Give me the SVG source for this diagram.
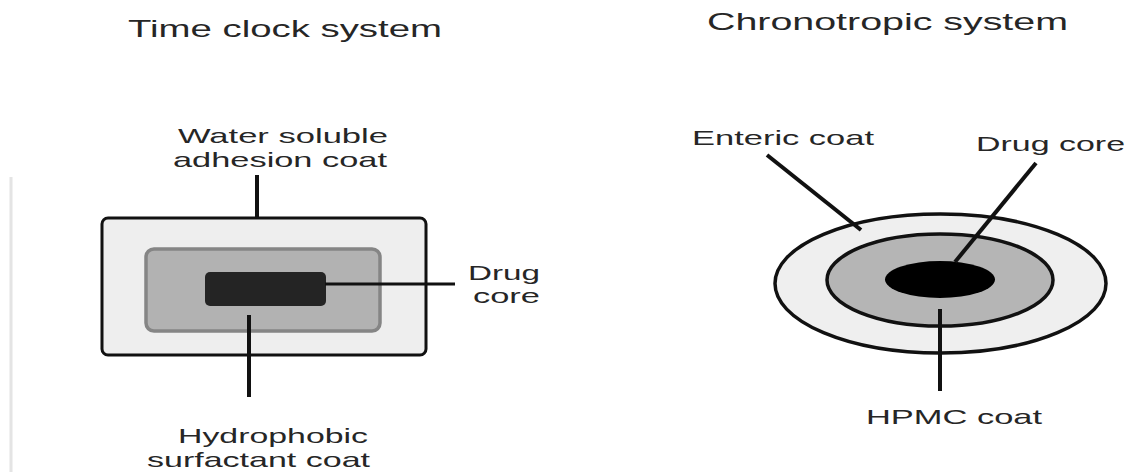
<svg xmlns="http://www.w3.org/2000/svg" width="1132" height="472" viewBox="0 0 1132 472">
  <style>
    text { font-family: "Liberation Sans", Arial, sans-serif; fill: #262626; }
    .title { font-size: 24px; }
    .lbl { font-size: 21px; }
    .conn { stroke: #111; stroke-width: 4; stroke-linecap: butt; fill: none; }
  </style>
  <rect x="0" y="0" width="1132" height="472" fill="#ffffff"/>
  <line x1="11" y1="177" x2="11" y2="472" stroke="#e4e4e4" stroke-width="3"/>

  <g id="title-left">
    <text class="title" x="128" y="37" textLength="314" lengthAdjust="spacingAndGlyphs">Time clock system</text>
  </g>
  <g id="title-right">
    <text class="title" x="707" y="30" textLength="361" lengthAdjust="spacingAndGlyphs">Chronotropic system</text>
  </g>

  <g id="time-clock-tablet">
    <rect x="102" y="218" width="324" height="137" rx="6" fill="#eeeeee" stroke="#111" stroke-width="3"/>
    <rect x="146" y="249" width="234" height="82" rx="8" fill="#b2b2b2" stroke="#858585" stroke-width="3.5"/>
    <rect x="205" y="272" width="121" height="34" rx="5" fill="#242424"/>
  </g>

  <g id="chronotropic-tablet">
    <ellipse cx="940.5" cy="283.5" rx="165.5" ry="69.5" fill="#efefef" stroke="#111" stroke-width="3.5"/>
    <ellipse cx="940" cy="280" rx="113" ry="46" fill="#b5b5b5" stroke="#111" stroke-width="3.5"/>
    <ellipse cx="940" cy="279.5" rx="55" ry="18.5" fill="#000000"/>
  </g>

  <g id="connectors">
    <line class="conn" x1="257" y1="175" x2="257" y2="218"/>
    <line class="conn" x1="249" y1="315" x2="249" y2="397"/>
    <line class="conn" x1="325" y1="284" x2="455" y2="284" style="stroke-width:3"/>
    <line class="conn" x1="767" y1="155" x2="861" y2="230"/>
    <line class="conn" x1="1036" y1="163" x2="955" y2="262"/>
    <line class="conn" x1="940" y1="309" x2="940" y2="391"/>
  </g>

  <g id="label-water-soluble">
    <text class="lbl" x="178" y="143" textLength="210" lengthAdjust="spacingAndGlyphs">Water soluble</text>
    <text class="lbl" x="173" y="167" textLength="214" lengthAdjust="spacingAndGlyphs">adhesion coat</text>
  </g>
  <g id="label-drug-core-left">
    <text class="lbl" x="468" y="280" textLength="72" lengthAdjust="spacingAndGlyphs">Drug</text>
    <text class="lbl" x="473" y="303" textLength="67" lengthAdjust="spacingAndGlyphs">core</text>
  </g>
  <g id="label-hydrophobic">
    <text class="lbl" x="178" y="443" textLength="190" lengthAdjust="spacingAndGlyphs">Hydrophobic</text>
    <text class="lbl" x="147" y="467" textLength="223" lengthAdjust="spacingAndGlyphs">surfactant coat</text>
  </g>
  <g id="label-enteric">
    <text class="lbl" x="692" y="145" textLength="182" lengthAdjust="spacingAndGlyphs">Enteric coat</text>
  </g>
  <g id="label-drug-core-right">
    <text class="lbl" x="976" y="151" textLength="149" lengthAdjust="spacingAndGlyphs">Drug core</text>
  </g>
  <g id="label-hpmc">
    <text class="lbl" x="866" y="424" textLength="176" lengthAdjust="spacingAndGlyphs">HPMC coat</text>
  </g>
</svg>
